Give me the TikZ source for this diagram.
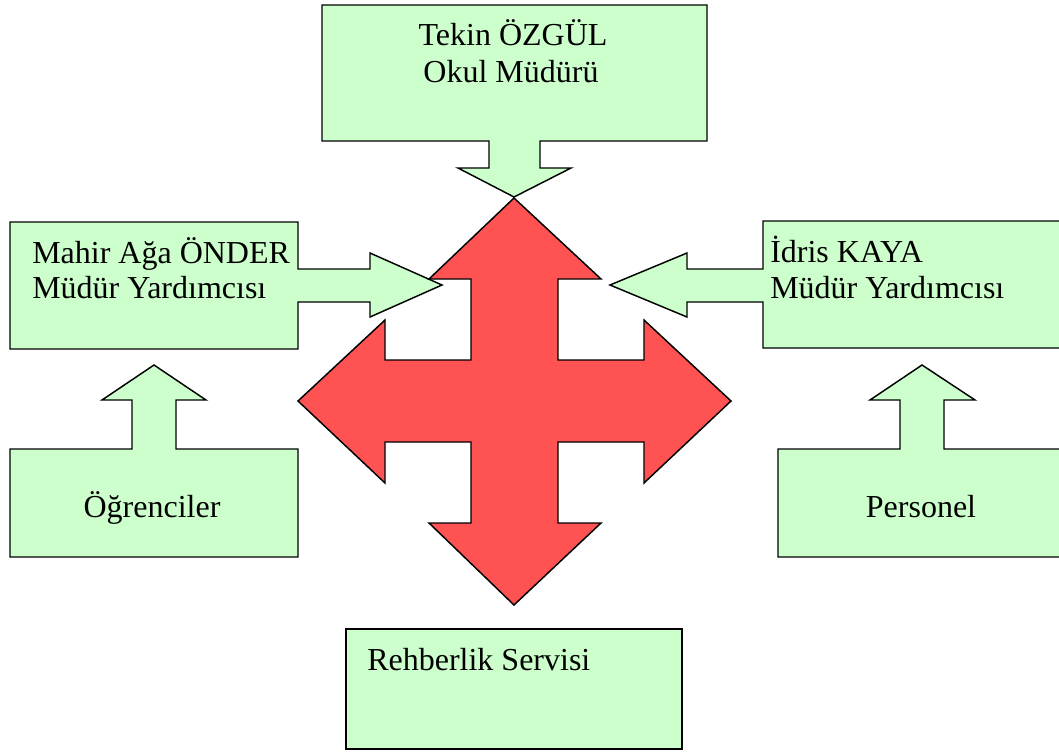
\documentclass[tikz,border=0pt]{standalone}
\usepackage{fontspec}
\setmainfont{Liberation Serif}
\definecolor{boxgreen}{RGB}{204,255,204}
\definecolor{crossred}{RGB}{255,82,82}
\begin{document}
\begin{tikzpicture}[x=0.75pt,y=-0.75pt,
  greenshape/.style={draw=black, fill=boxgreen, line width=1.1pt, line join=miter},
  redshape/.style={draw=black, fill=crossred, line width=1.1pt, line join=miter},
  lbl/.style={font=\fontsize{24}{28}\selectfont, inner sep=0pt, text=black}]
\useasboundingbox (0,0) rectangle (1059,751);
\clip (0,0) rectangle (1059,751);
% top callout
\draw[greenshape] (322,5) -- (707,5) -- (707,141) -- (540,141) -- (540,168) -- (571,168) -- (514,197) -- (458,168) -- (489,168) -- (489,141) -- (322,141) -- cycle;
% left callout
\draw[greenshape] (10,222) -- (298,222) -- (298,269) -- (370,269) -- (370,253) -- (442,285) -- (370,317) -- (370,302) -- (298,302) -- (298,349) -- (10,349) -- cycle;
% right callout
\draw[greenshape] (763,221) -- (1075,221) -- (1075,348) -- (763,348) -- (763,302) -- (687,302) -- (687,317) -- (610,285) -- (687,253) -- (687,269) -- (763,269) -- cycle;
% students callout
\draw[greenshape] (10,449) -- (132,449) -- (132,400) -- (102,400) -- (154,365) -- (206,400) -- (176,400) -- (176,449) -- (298,449) -- (298,557) -- (10,557) -- cycle;
% staff callout
\draw[greenshape] (778,449) -- (900,449) -- (900,400) -- (870,400) -- (922,365) -- (975,400) -- (944,400) -- (944,449) -- (1075,449) -- (1075,557) -- (778,557) -- cycle;
% guidance box
\draw[greenshape] (346,629) rectangle (682,749);
% red four-way arrow
\draw[redshape] (514,198) -- (601,279) -- (558,279) -- (558,360) -- (644,360) -- (644,320) -- (731,401) -- (644,483) -- (644,442) -- (558,442) -- (558,523) -- (601,523) -- (514,605) -- (429,523) -- (471,523) -- (471,442) -- (385,442) -- (385,483) -- (298,401) -- (385,320) -- (385,360) -- (471,360) -- (471,279) -- (429,279) -- cycle;
% texts
\node[lbl, anchor=base] (t1) at (513,45) {Tekin ÖZGÜL};
\node[lbl, anchor=base] (t2) at (511,82) {Okul Müdürü};
\node[lbl, anchor=base west] (m1) at (32,263) {Mahir Ağa ÖNDER};
\node[lbl, anchor=base west] (m2) at (32,298) {Müdür Yardımcısı};
\node[lbl, anchor=base west] (i1) at (770,262) {İdris KAYA};
\node[lbl, anchor=base west] (i2) at (770,298) {Müdür Yardımcısı};
\node[lbl, anchor=base] (o) at (152,517) {Öğrenciler};
\node[lbl, anchor=base] (p) at (921,517) {Personel};
\node[lbl, anchor=base west] (r) at (367,670) {Rehberlik Servisi};
\end{tikzpicture}
\end{document}
